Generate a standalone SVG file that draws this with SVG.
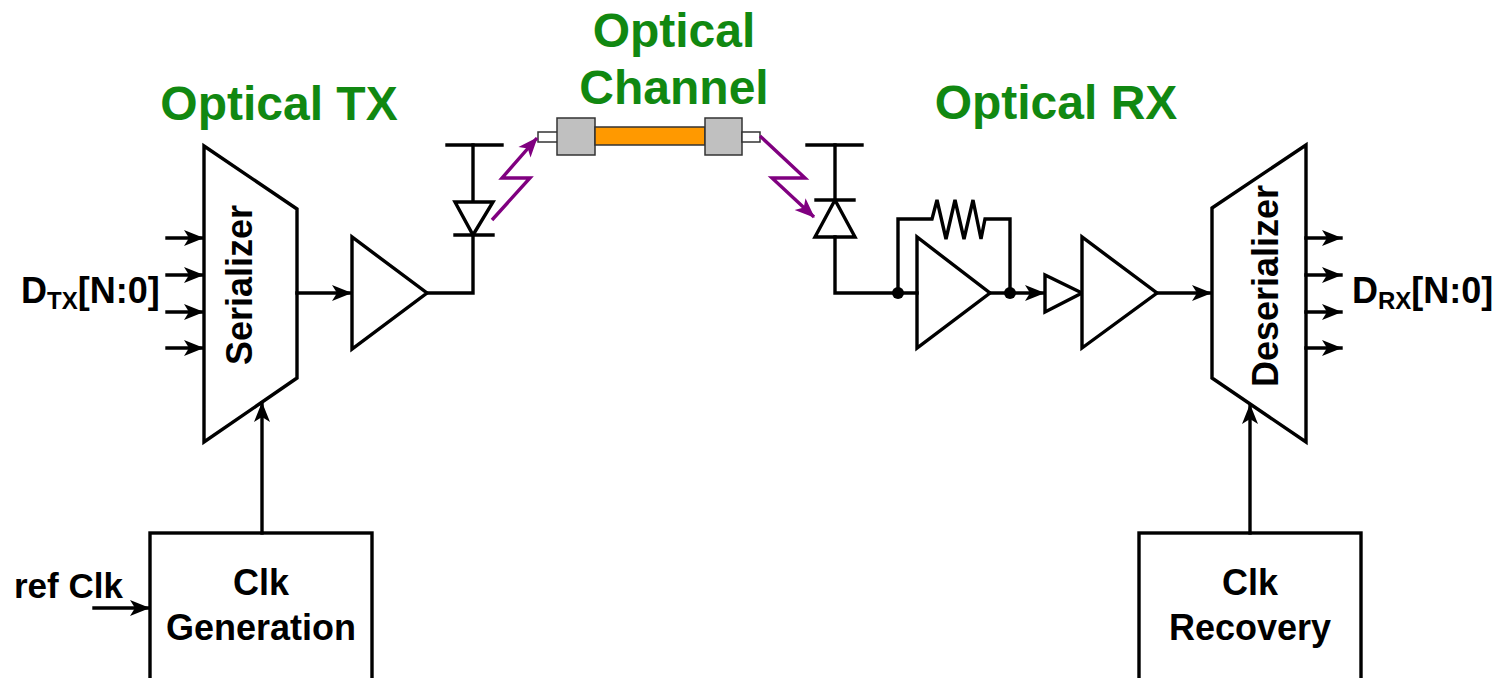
<svg xmlns="http://www.w3.org/2000/svg" width="1506" height="678" viewBox="0 0 1506 678">
<style>
.w{fill:none;stroke:#000;stroke-width:3.4;stroke-linejoin:miter;stroke-linecap:square}
.s{fill:#fff;stroke:#000;stroke-width:3.4;stroke-linejoin:miter}
.t{font-family:"Liberation Sans",Arial,sans-serif;font-weight:bold;fill:#000}
.g{font-family:"Liberation Sans",Arial,sans-serif;font-weight:bold;fill:#118811;font-size:48px;text-anchor:middle}
.p{fill:none;stroke:#800080;stroke-width:3.4;stroke-linejoin:miter}
</style>
<defs>
<marker id="a" markerUnits="userSpaceOnUse" markerWidth="22" markerHeight="18" refX="19" refY="8" orient="auto" overflow="visible">
<path d="M0,0 L20,8 L0,16 L5,8 z" fill="#000"/>
</marker>
<marker id="ap" markerUnits="userSpaceOnUse" markerWidth="22" markerHeight="18" refX="19" refY="8" orient="auto" overflow="visible">
<path d="M0,0 L20,8 L0,16 L5,8 z" fill="#800080"/>
</marker>
</defs>

<g id="titles">
<text class="g" x="279" y="120">Optical TX</text>
<text class="g" x="674" y="47">Optical</text>
<text class="g" x="674" y="104">Channel</text>
<text class="g" x="1056" y="119">Optical RX</text>
</g>

<g id="serializer">
<polygon class="s" points="204,146 297,209 297,378 204,442"/>
<text class="t" font-size="36" text-anchor="middle" transform="translate(252,285) rotate(-90)">Serializer</text>
</g>

<g id="dtx-label">
<text class="t" x="21" y="303" font-size="36">D<tspan font-size="24" dy="6">TX</tspan><tspan dy="-6">[N:0]</tspan></text>
</g>

<g id="tx-driver">
<polygon class="s" points="352,237 352,349 427,293"/>
</g>

<g id="laser">
<line class="w" x1="447" y1="145" x2="502" y2="145"/>
<line class="w" x1="473" y1="145" x2="473" y2="202"/>
<polygon class="s" points="455,202 493,202 473,235"/>
<line class="w" x1="455" y1="235" x2="493" y2="235"/>
</g>

<g id="optical-channel">
<rect x="538" y="132" width="20" height="10" fill="#fff" stroke="#333" stroke-width="1.5"/>
<rect x="557" y="118" width="38" height="37" fill="#c0c0c0" stroke="#333" stroke-width="1.5"/>
<rect x="595" y="127" width="110" height="18" fill="#ff9900" stroke="#333" stroke-width="1.5"/>
<rect x="705" y="118" width="37" height="37" fill="#c0c0c0" stroke="#333" stroke-width="1.5"/>
<rect x="742" y="132" width="18" height="10" fill="#fff" stroke="#333" stroke-width="1.5"/>
</g>

<g id="photodiode">
<line class="w" x1="807" y1="145" x2="862" y2="145"/>
<line class="w" x1="835" y1="145" x2="835" y2="200"/>
<line class="w" x1="816" y1="200" x2="854" y2="200"/>
<polygon class="s" points="835,200 855,237 815,237"/>
</g>

<g id="tia">
<polygon class="s" points="917,237 917,348 990,293"/>
<polyline class="w" points="898,293 898,219 932,219 937,200 946,239 955,200 964,239 973,200 981,239 985,219 1010,219 1010,293"/>
<circle cx="898" cy="293" r="6" fill="#000"/>
<circle cx="1010" cy="293" r="6" fill="#000"/>
</g>

<g id="buffer">
<polygon class="s" points="1045,275 1045,312 1082,293"/>
</g>

<g id="limiting-amp">
<polygon class="s" points="1082,237 1082,348 1157,293"/>
</g>

<g id="deserializer">
<polygon class="s" points="1212,208 1306,145 1306,442 1212,378"/>
<text class="t" font-size="36" text-anchor="middle" transform="translate(1278,286) rotate(-90)">Deserializer</text>
</g>

<g id="drx-label">
<text class="t" x="1352" y="303" font-size="36">D<tspan font-size="24" dy="6">RX</tspan><tspan dy="-6">[N:0]</tspan></text>
</g>

<g id="clk-generation">
<rect class="s" x="150" y="533" width="222" height="170"/>
<text class="t" font-size="36" text-anchor="middle" x="261" y="595">Clk</text>
<text class="t" font-size="36" text-anchor="middle" x="261" y="640">Generation</text>
</g>

<g id="ref-clk-label">
<text class="t" font-size="35" x="14" y="598">ref Clk</text>
</g>

<g id="clk-recovery">
<rect class="s" x="1139" y="533" width="222" height="170"/>
<text class="t" font-size="36" text-anchor="middle" x="1250" y="595">Clk</text>
<text class="t" font-size="36" text-anchor="middle" x="1250" y="640">Recovery</text>
</g>

<g id="connectors">
<line class="w" x1="167" y1="238" x2="203" y2="238" marker-end="url(#a)"/>
<line class="w" x1="167" y1="275" x2="203" y2="275" marker-end="url(#a)"/>
<line class="w" x1="167" y1="312" x2="203" y2="312" marker-end="url(#a)"/>
<line class="w" x1="167" y1="348" x2="203" y2="348" marker-end="url(#a)"/>
<line class="w" x1="297" y1="293" x2="351" y2="293" marker-end="url(#a)"/>
<polyline class="w" points="427,293 473,293 473,235"/>
<polyline class="p" points="492,220 530,178 502,178 537,138" marker-end="url(#ap)"/>
<polyline class="p" points="760,136 805,178 772,178 814,217" marker-end="url(#ap)"/>
<polyline class="w" points="835,237 835,293 917,293"/>
<line class="w" x1="990" y1="293" x2="1044" y2="293" marker-end="url(#a)"/>
<line class="w" x1="1157" y1="293" x2="1211" y2="293" marker-end="url(#a)"/>
<line class="w" x1="1306" y1="238" x2="1341" y2="238" marker-end="url(#a)"/>
<line class="w" x1="1306" y1="275" x2="1341" y2="275" marker-end="url(#a)"/>
<line class="w" x1="1306" y1="312" x2="1341" y2="312" marker-end="url(#a)"/>
<line class="w" x1="1306" y1="348" x2="1341" y2="348" marker-end="url(#a)"/>
<line class="w" x1="262" y1="533" x2="262" y2="403" marker-end="url(#a)"/>
<line class="w" x1="1250" y1="533" x2="1250" y2="405" marker-end="url(#a)"/>
<line class="w" x1="94" y1="608" x2="149" y2="608" marker-end="url(#a)"/>
</g>
</svg>
